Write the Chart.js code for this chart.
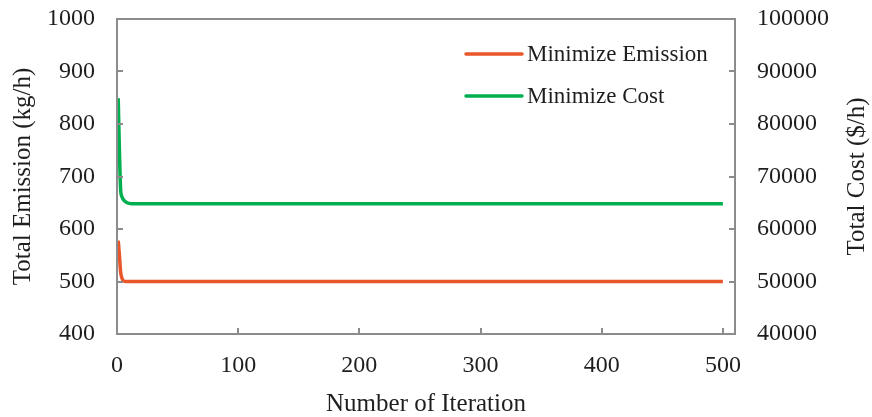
<!DOCTYPE html>
<html>
<head>
<meta charset="utf-8">
<script src="https://cdn.jsdelivr.net/npm/chart.js@4/dist/chart.umd.min.js"></script>
<style>
  html, body { margin: 0; padding: 0; background: #ffffff; }
  #wrap { width: 872px; height: 417px; }
</style>
</head>
<body>
<div id="wrap"><canvas id="c" width="872" height="417"></canvas></div>
<script>
// Convergence of the two objectives over the optimisation iterations
const emissionIterations = [1, 2, 3, 4, 5, 6, 7, 500];
const emissionValues = [578, 550, 518, 507, 502, 500.5, 500, 500];          // kg/h

const costIterations = [1, 2, 3, 4, 5, 6, 8, 10, 12, 500];
const costValues = [84900, 75000, 67500, 66200, 65700, 65400, 65050, 64880, 64820, 64800]; // $/h

const emissionTicks = [400, 500, 600, 700, 800, 900, 1000];
const costTicks = [40000, 50000, 60000, 70000, 80000, 90000, 100000];
const iterationTicks = [0, 100, 200, 300, 400, 500];

const seriesNames = ['Minimize Emission', 'Minimize Cost'];
const seriesColors = ['#E8562A', '#00B050'];

const FONT = '"Liberation Serif", "Times New Roman", serif';
const AXIS_COLOR = '#8c8c8c';
const TEXT_COLOR = '#1e1e1e';

const toPoints = (xs, ys) => xs.map((x, i) => ({ x, y: ys[i] }));

// Frame around the plot area plus inward-pointing tick marks
const framePlugin = {
  id: 'frame',
  afterDatasetsDraw(chart) {
    const { ctx, chartArea: a, scales } = chart;
    const len = 6;
    ctx.save();
    ctx.strokeStyle = AXIS_COLOR;
    ctx.lineWidth = 2;
    ctx.beginPath();
    scales.y.ticks.forEach(t => {
      const p = Math.round(scales.y.getPixelForValue(t.value));
      ctx.moveTo(a.left, p); ctx.lineTo(a.left + len, p);
    });
    scales.y1.ticks.forEach(t => {
      const p = Math.round(scales.y1.getPixelForValue(t.value));
      ctx.moveTo(a.right, p); ctx.lineTo(a.right - len, p);
    });
    scales.x.ticks.forEach(t => {
      const p = Math.round(scales.x.getPixelForValue(t.value));
      ctx.moveTo(p, a.bottom); ctx.lineTo(p, a.bottom - len);
    });
    ctx.stroke();
    ctx.strokeRect(a.left, a.top, a.right - a.left, a.bottom - a.top);
    ctx.restore();
  }
};

// Right-hand axis title, reading bottom to top
const rightTitlePlugin = {
  id: 'rightTitle',
  afterDraw(chart) {
    const { ctx, chartArea: a, width } = chart;
    ctx.save();
    ctx.translate(width - 15, (a.top + a.bottom) / 2);
    ctx.rotate(-Math.PI / 2);
    ctx.font = '25px ' + FONT;
    ctx.fillStyle = TEXT_COLOR;
    ctx.textAlign = 'center';
    ctx.textBaseline = 'middle';
    ctx.fillText('Total Cost ($/h)', 0, 0);
    ctx.restore();
  }
};

// Legend drawn inside the plot area, one entry per row
const innerLegendPlugin = {
  id: 'innerLegend',
  afterDraw(chart) {
    const { ctx, chartArea: a } = chart;
    const x0 = a.left + 349, x1 = a.left + 405, tx = a.left + 410;
    const rows = [a.top + 35, a.top + 77];
    ctx.save();
    ctx.font = '23px ' + FONT;
    ctx.textBaseline = 'middle';
    ctx.textAlign = 'left';
    chart.data.datasets.forEach((ds, i) => {
      ctx.strokeStyle = ds.borderColor;
      ctx.lineWidth = 3.5;
      ctx.lineCap = 'round';
      ctx.beginPath();
      ctx.moveTo(x0, rows[i]); ctx.lineTo(x1, rows[i]);
      ctx.stroke();
      ctx.fillStyle = TEXT_COLOR;
      ctx.fillText(ds.label, tx, rows[i] + 1);
    });
    ctx.restore();
  }
};

const tickFont = { family: FONT, size: 24 };

const fixVertical = w => s => {
  s.width = w;
  s.paddingTop = 0;
  s.paddingBottom = 0;
};

new Chart(document.getElementById('c'), {
  type: 'line',
  data: {
    datasets: [
      {
        label: seriesNames[0],
        data: toPoints(emissionIterations, emissionValues),
        borderColor: seriesColors[0],
        backgroundColor: seriesColors[0],
        borderWidth: 3.5,
        pointRadius: 0,
        cubicInterpolationMode: 'monotone',
        yAxisID: 'y'
      },
      {
        label: seriesNames[1],
        data: toPoints(costIterations, costValues),
        borderColor: seriesColors[1],
        backgroundColor: seriesColors[1],
        borderWidth: 3.5,
        pointRadius: 0,
        cubicInterpolationMode: 'monotone',
        yAxisID: 'y1'
      }
    ]
  },
  options: {
    responsive: false,
    animation: false,
    layout: { padding: { top: 19, left: 0, right: 0, bottom: 0 } },
    plugins: {
      legend: { display: false },
      tooltip: { enabled: false }
    },
    scales: {
      x: {
        type: 'linear',
        min: 0,
        max: 510,
        afterFit: s => { s.height = 83; s.paddingLeft = 0; s.paddingRight = 0; },
        afterBuildTicks: s => { s.ticks = iterationTicks.map(v => ({ value: v })); },
        grid: { display: false, drawTicks: false },
        border: { display: false },
        ticks: { font: tickFont, color: TEXT_COLOR, padding: 17, maxRotation: 0, callback: v => String(v) },
        title: {
          display: true,
          text: 'Number of Iteration',
          font: { family: FONT, size: 25, lineHeight: 1 },
          color: TEXT_COLOR,
          padding: { top: 0, bottom: 0 }
        }
      },
      y: {
        position: 'left',
        min: 400,
        max: 1000,
        afterFit: fixVertical(117),
        afterBuildTicks: s => { s.ticks = emissionTicks.map(v => ({ value: v })); },
        grid: { display: false, drawTicks: false },
        border: { display: false },
        ticks: { font: tickFont, color: TEXT_COLOR, padding: 22, callback: v => String(v) },
        title: {
          display: true,
          text: 'Total Emission (kg/h)',
          font: { family: FONT, size: 25, lineHeight: 1.2 },
          color: TEXT_COLOR,
          padding: { top: 8, bottom: 0 }
        }
      },
      y1: {
        position: 'right',
        min: 40000,
        max: 100000,
        afterFit: fixVertical(137),
        afterBuildTicks: s => { s.ticks = costTicks.map(v => ({ value: v })); },
        grid: { display: false, drawTicks: false },
        border: { display: false },
        ticks: { font: tickFont, color: TEXT_COLOR, padding: 22, callback: v => String(v) }
      }
    }
  },
  plugins: [framePlugin, rightTitlePlugin, innerLegendPlugin]
});
</script>
</body>
</html>
